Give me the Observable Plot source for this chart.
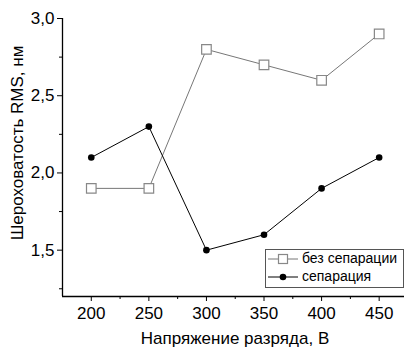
<!DOCTYPE html>
<html><head><meta charset="utf-8">
<script src="https://cdn.jsdelivr.net/npm/d3@7"></script>
<script src="https://cdn.jsdelivr.net/npm/@observablehq/plot@0.6"></script>
<style>body{margin:0;background:#fff;} #c{position:relative;width:404px;height:349px;}</style>
</head><body><div id="c"></div>
<script>
const voltages = [200, 250, 300, 350, 400, 450];
const noSep = [1.9, 1.9, 2.8, 2.7, 2.6, 2.9];
const sep = [2.1, 2.3, 1.5, 1.6, 1.9, 2.1];
const seriesNames = ["без сепарации", "сепарация"];
const xTicks = [200, 250, 300, 350, 400, 450];
const xMinor = [225, 275, 325, 375, 425];
const yTicks = [1.5, 2.0, 2.5, 3.0];
const yMinor = [1.25, 1.75, 2.25, 2.75];
const xTitle = "Напряжение разряда, В";
const yTitle = "Шероховатость RMS, нм";

const dA = voltages.map((v, i) => ({x: v, y: noSep[i]}));
const dB = voltages.map((v, i) => ({x: v, y: sep[i]}));
const fmt = d => d.toFixed(1).replace(".", ",");
const font = "Liberation Sans, Arial, sans-serif";

const plot = Plot.plot({
  width: 404, height: 349,
  marginLeft: 62, marginRight: 0, marginTop: 18, marginBottom: 53,
  style: {fontFamily: font, background: "white", color: "#000"},
  x: {domain: [175, 472]},
  y: {domain: [1.2, 3.0]},
  marks: [
    Plot.axisX({ticks: xTicks, tickSize: 5, tickPadding: 5, fontSize: 17, label: null, tickFormat: d => String(d), stroke: "#000", strokeWidth: 1}),
    Plot.axisX({ticks: xMinor, tickSize: 3, tickFormat: () => "", label: null, stroke: "#000"}),
    Plot.axisY({ticks: yTicks, tickSize: 5, tickPadding: 3, fontSize: 17, label: null, tickFormat: fmt, stroke: "#000"}),
    Plot.axisY({ticks: yMinor, tickSize: 3, tickFormat: () => "", label: null, stroke: "#000"}),
    Plot.ruleY([1.2], {stroke: "#000", strokeWidth: 1.3}),
    Plot.ruleX([175], {stroke: "#000", strokeWidth: 1.3}),
    Plot.line(dA, {x: "x", y: "y", stroke: "#777", strokeWidth: 1}),
    Plot.dot(dA, {x: "x", y: "y", symbol: "square", r: 5.4, fill: "white", stroke: "#888", strokeWidth: 1.2}),
    Plot.line(dB, {x: "x", y: "y", stroke: "#000", strokeWidth: 1}),
    Plot.dot(dB, {x: "x", y: "y", r: 3.3, fill: "#000", stroke: "none"})
  ]
});
document.getElementById("c").appendChild(plot);

const svg = d3.select(plot);
svg.append("text").attr("x", 235).attr("y", 340).attr("text-anchor", "middle")
  .attr("dominant-baseline", "middle").attr("font-size", 17).attr("font-family", font).attr("fill", "#000").text(xTitle);
svg.append("text").attr("transform", "translate(19,143) rotate(-90)").attr("text-anchor", "middle")
  .attr("dominant-baseline", "middle").attr("font-size", 17).attr("font-family", font).attr("fill", "#000").text(yTitle);

// legend
const lg = svg.append("g").attr("font-family", font).attr("font-size", 14);
lg.append("rect").attr("x", 265.5).attr("y", 249.5).attr("width", 138).attr("height", 38)
  .attr("fill", "white").attr("stroke", "#555").attr("stroke-width", 1);
const rows = [
  {y: 259, stroke: "#777", sym: "sq"},
  {y: 277, stroke: "#000", sym: "dot"}
];
rows.forEach((r, i) => {
  lg.append("line").attr("x1", 268).attr("x2", 298).attr("y1", r.y).attr("y2", r.y)
    .attr("stroke", r.stroke).attr("stroke-width", 1);
  if (r.sym === "sq") lg.append("rect").attr("x", 278.5).attr("y", r.y - 4.5).attr("width", 9).attr("height", 9)
    .attr("fill", "white").attr("stroke", "#888").attr("stroke-width", 1.2);
  else lg.append("circle").attr("cx", 283).attr("cy", r.y).attr("r", 3.3).attr("fill", "#000");
  lg.append("text").attr("x", 302).attr("y", r.y).attr("text-anchor", "start")
    .attr("dominant-baseline", "middle").attr("fill", "#000").text(seriesNames[i]);
});
</script></body></html>
